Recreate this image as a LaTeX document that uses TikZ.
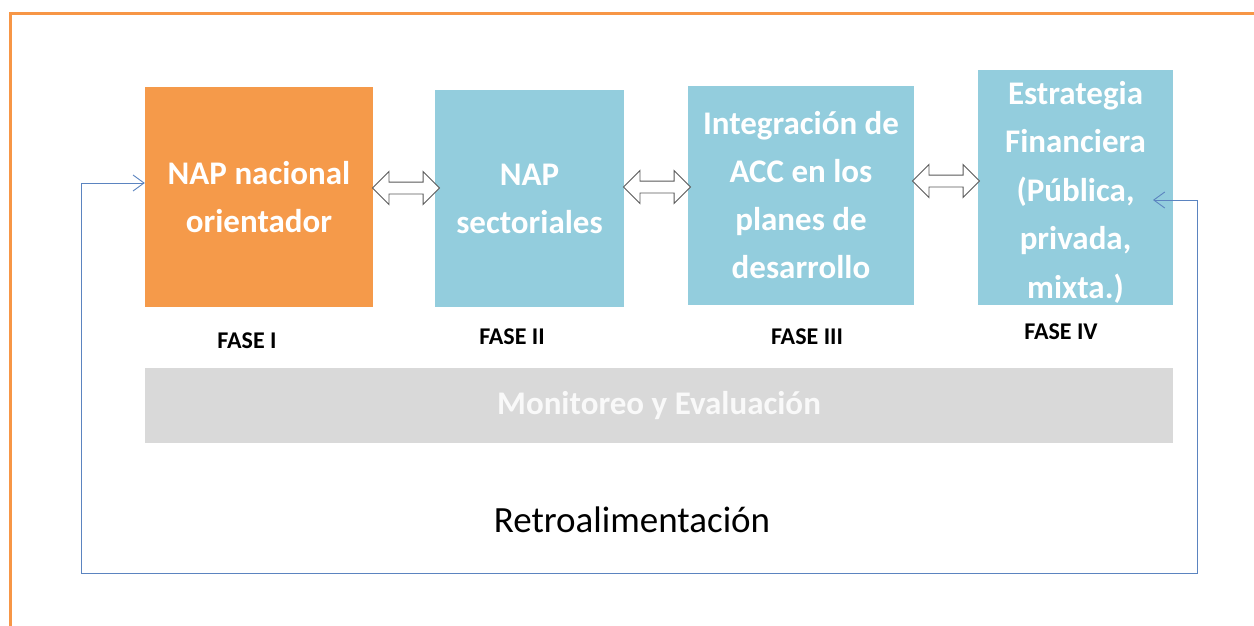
\documentclass[tikz,border=0pt]{standalone}
\usepackage{fontspec}
\setmainfont{Carlito}
\usetikzlibrary{shapes.arrows,arrows.meta}
\definecolor{framec}{HTML}{F79646}
\definecolor{orangebox}{HTML}{F59A4A}
\definecolor{bluebox}{HTML}{93CDDD}
\definecolor{graybar}{HTML}{D9D9D9}
\definecolor{fbline}{HTML}{5B84C0}
\tikzset{
  phase/.style={inner sep=0pt, align=center, text=white,
    font=\fontsize{33}{48}\selectfont\bfseries},
  phasetext/.style={inner sep=0pt, align=center, text=white,
    font=\fontsize{33}{48.5}\selectfont\bfseries},
  dblarrow/.style={double arrow, draw=black!65, fill=white, line width=0.9pt,
    minimum height=67pt, inner sep=5.5pt, double arrow head extend=10.5pt},
  faselbl/.style={font=\fontsize{24}{27}\selectfont\bfseries, text=black},
  fb/.style={draw=fbline, line width=0.9pt},
  fbtip/.style={-{Straight Barb[length=11pt,width=16pt,line width=0.9pt]}},
}
\begin{document}
\begin{tikzpicture}[x=1pt,y=-1pt]
\useasboundingbox (0,0) rectangle (1254,625);
\clip (0,0) rectangle (1254,625);
\fill[white] (0,0) rectangle (1254,625);
\draw[framec, line width=3pt] (10,13) rectangle (1270,640);
% phase boxes
\node[phase, fill=orangebox, minimum width=228pt, minimum height=220pt] (b1) at (259,197) {NAP nacional\\orientador};
\node[phase, fill=bluebox, minimum width=189pt, minimum height=217pt] (b2) at (529.5,198.5) {NAP\\sectoriales};
\node[phase, fill=bluebox, minimum width=226pt, minimum height=219pt] (b3) at (801,195.5) {Integración de\\ACC en los\\planes de\\desarrollo};
\node[fill=bluebox, minimum width=195pt, minimum height=235pt, inner sep=0pt] (b4) at (1075.5,187.5) {};
\node[phasetext] (t4) at ([yshift=-4.5pt]b4.center) {Estrategia\\Financiera\\(Pública,\\privada,\\mixta.)};
% double arrows
\node[dblarrow] (a12) at (406,188) {};
\node[dblarrow] (a23) at (657,187) {};
\node[dblarrow] (a34) at (946,181) {};
% phase labels
\node[faselbl] (f1) at (247,341) {FASE I};
\node[faselbl] (f2) at (512,337) {FASE II};
\node[faselbl] (f3) at (807,337) {FASE III};
\node[faselbl] (f4) at (1061,332) {FASE IV};
% monitoring bar
\node[fill=graybar, minimum width=1028pt, minimum height=75pt, inner sep=0pt,
  text=white!95!gray, font=\fontsize{33}{36}\selectfont\bfseries] (me) at (659,405.5) {Monitoreo y Evaluación};
% feedback
\node[font=\fontsize{37}{40}\selectfont] (retro) at (632,520) {Retroalimentación};
\coordinate (in4) at (1153,200);
\coordinate (fbR) at (1197,200);
\coordinate (fbRB) at (1197,573);
\coordinate (fbLB) at (81,573);
\coordinate (fbL) at (81,183);
\draw[fb, fbtip] (fbR) -- (in4);
\draw[fb, fbtip] (fbR) -- (fbRB) -- (fbLB) -- (fbL) -- (fbL -| b1.west);
\end{tikzpicture}
\end{document}
